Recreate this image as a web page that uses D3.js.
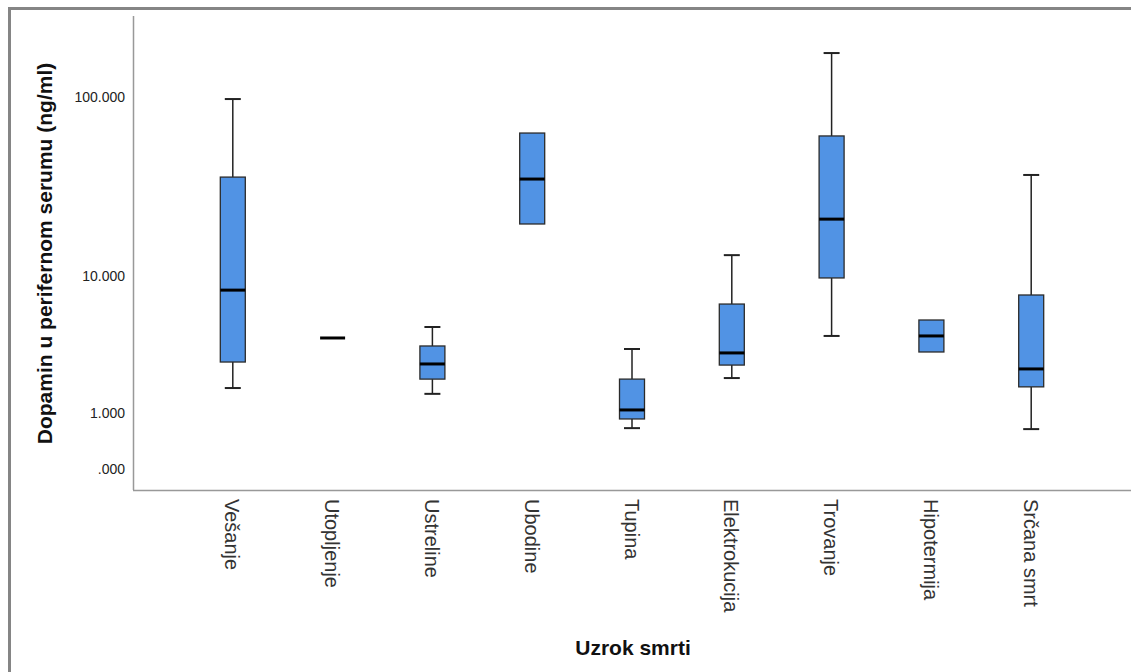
<!DOCTYPE html>
<html>
<head>
<meta charset="utf-8">
<script src="https://cdn.jsdelivr.net/npm/d3@7"></script>
<style>
  html,body{margin:0;padding:0;background:#fff;}
  svg{display:block;font-family:"Liberation Sans",Arial,sans-serif;}
</style>
</head>
<body>
<svg id="chart" width="1131" height="672"></svg>
<script>
/* ---------- data ---------- */
const categories = ["Vešanje","Utopljenje","Ustreline","Ubodine","Tupina","Elektrokucija","Trovanje","Hipotermija","Srčana smrt"];
const whiskerLow  = [1.73, 4.08, 1.54, 19.9, 0.66, 2.09, 4.21, 3.27, 0.64];
const q1          = [2.77, 4.08, 2.05, 19.9, 0.86, 2.63, 9.7,  3.27, 1.77];
const medians     = [8.2,  4.08, 2.68, 35.5, 1.08, 3.22, 21.2, 4.21, 2.46];
const q3          = [36.4, 4.08, 3.60, 63.6, 2.05, 6.74, 61.3, 5.35, 7.66];
const whiskerHigh = [97.5, 4.08, 4.82, 63.6, 3.43, 13.2, 173.3, 5.35, 37.4];
const yTickValues = [0, 1, 10, 100];
const yTickLabels = [".000", "1.000", "10.000", "100.000"];

const W = 1131, H = 672;
const P = { l:133, t:16, r:1131, b:490 };

const svg = d3.select("#chart");

/* outer frame (gray, only top + left visible) */
svg.append("line").attr("x1",8).attr("x2",W).attr("y1",8.5).attr("y2",8.5)
  .attr("stroke","#858585").attr("stroke-width",3);
svg.append("line").attr("x1",9.5).attr("x2",9.5).attr("y1",7).attr("y2",H)
  .attr("stroke","#858585").attr("stroke-width",3);

/* scales */
const x = d3.scalePoint().domain(categories).range([P.l, P.r]).padding(1);
const y = d3.scaleSymlog().constant(1).domain([-0.298, 275]).range([P.b, P.t]);

/* axes lines */
svg.append("line").attr("x1",P.l+0.5).attr("x2",P.l+0.5).attr("y1",P.t).attr("y2",P.b)
  .attr("stroke","#999").attr("stroke-width",1.5);
svg.append("line").attr("x1",P.l).attr("x2",P.r).attr("y1",P.b+0.5).attr("y2",P.b+0.5)
  .attr("stroke","#999").attr("stroke-width",1.5);

/* y tick labels */
const yAxis = d3.axisLeft(y).tickValues(yTickValues)
  .tickFormat((d,i) => yTickLabels[i]).tickSize(0).tickPadding(8);
const gy = svg.append("g").attr("transform",`translate(${P.l},0)`).call(yAxis);
gy.select(".domain").remove();
gy.selectAll("text").attr("font-size",14).attr("fill","#222")
  .attr("font-family","'Liberation Sans',Arial,sans-serif");

/* x tick labels, rotated */
const xAxis = d3.axisBottom(x).tickSize(0).tickPadding(0);
const gx = svg.append("g").attr("transform",`translate(0,${P.b})`).call(xAxis);
gx.select(".domain").remove();
gx.selectAll("text")
  .attr("font-size",20).attr("fill","#333")
  .attr("font-family","'Liberation Sans',Arial,sans-serif")
  .attr("text-anchor","start").attr("dy","0.35em")
  .attr("transform","translate(-1,9) rotate(90)")
  .attr("x",0).attr("y",0);

/* boxes */
const BW = 25, CAP = 20;
const g = svg.append("g");
categories.forEach((c,i) => {
  const cx = x(c);
  const lo = y(whiskerLow[i]), hi = y(whiskerHigh[i]);
  const b1 = y(q1[i]), b3 = y(q3[i]), md = y(medians[i]);

  if (hi < b3) {
    g.append("line").attr("x1",cx).attr("x2",cx).attr("y1",hi).attr("y2",b3)
      .attr("stroke","#222").attr("stroke-width",1.5);
    g.append("line").attr("x1",cx-CAP/2+2).attr("x2",cx+CAP/2-2).attr("y1",hi).attr("y2",hi)
      .attr("stroke","#222").attr("stroke-width",2);
  }
  if (lo > b1) {
    g.append("line").attr("x1",cx).attr("x2",cx).attr("y1",b1).attr("y2",lo)
      .attr("stroke","#222").attr("stroke-width",1.5);
    g.append("line").attr("x1",cx-CAP/2+2).attr("x2",cx+CAP/2-2).attr("y1",lo).attr("y2",lo)
      .attr("stroke","#222").attr("stroke-width",2);
  }
  if (b1 - b3 > 0.5) {
    g.append("rect").attr("x",cx-BW/2).attr("y",b3).attr("width",BW).attr("height",b1-b3)
      .attr("fill","#5193e4").attr("stroke","#2b2b2b").attr("stroke-width",1.3);
  }
  g.append("line").attr("x1",cx-BW/2).attr("x2",cx+BW/2).attr("y1",md).attr("y2",md)
    .attr("stroke","#000").attr("stroke-width",3);
});

/* titles */
svg.append("text")
  .attr("transform",`translate(52,${(62+445)/2}) rotate(-90)`)
  .attr("text-anchor","middle")
  .attr("font-size",21).attr("font-weight","bold").attr("fill","#111")
  .text("Dopamin u perifernom serumu (ng/ml)");

svg.append("text")
  .attr("x",633).attr("y",655)
  .attr("text-anchor","middle")
  .attr("font-size",21).attr("font-weight","bold").attr("fill","#111")
  .text("Uzrok smrti");
</script>
</body>
</html>
